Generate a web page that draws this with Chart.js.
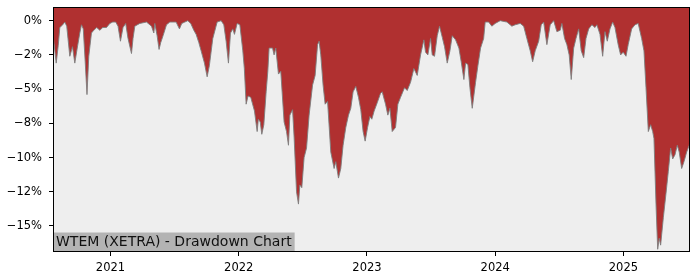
<!DOCTYPE html>
<html>
<head>
<meta charset="utf-8">
<script src="https://cdn.jsdelivr.net/npm/chart.js@4/dist/chart.umd.min.js"></script>
<style>
  body { margin: 0; background: #fff; }
  #wrap { width: 700px; height: 280px; }
</style>
</head>
<body>
<div id="wrap"><canvas id="dd" width="700" height="280"></canvas></div>
<script>
// dates as decimal years, drawdown in percent
const dates = [
  2020.552, 2020.577, 2020.593, 2020.605, 2020.628, 2020.644, 2020.659, 2020.683, 2020.704, 2020.722,
  2020.741, 2020.761, 2020.774, 2020.788, 2020.803, 2020.817, 2020.831, 2020.852, 2020.870, 2020.893,
  2020.917, 2020.940, 2020.969, 2020.995, 2021.018, 2021.041, 2021.059, 2021.078, 2021.098, 2021.119,
  2021.137, 2021.164, 2021.176, 2021.190, 2021.229, 2021.281, 2021.320, 2021.338, 2021.346, 2021.364,
  2021.379, 2021.392, 2021.410, 2021.437, 2021.463, 2021.488, 2021.512, 2021.538, 2021.556, 2021.580,
  2021.603, 2021.626, 2021.650, 2021.668, 2021.689, 2021.707, 2021.733, 2021.754, 2021.771, 2021.798,
  2021.832, 2021.863, 2021.884, 2021.902, 2021.920, 2021.936, 2021.954, 2021.967, 2021.988, 2022.009,
  2022.032, 2022.044, 2022.058, 2022.073, 2022.094, 2022.123, 2022.144, 2022.153, 2022.168, 2022.180,
  2022.196, 2022.214, 2022.227, 2022.237, 2022.264, 2022.276, 2022.289, 2022.310, 2022.328, 2022.354,
  2022.373, 2022.388, 2022.399, 2022.420, 2022.432, 2022.451, 2022.466, 2022.477, 2022.492, 2022.510,
  2022.529, 2022.549, 2022.576, 2022.596, 2022.615, 2022.627, 2022.640, 2022.658, 2022.674, 2022.693,
  2022.718, 2022.744, 2022.757, 2022.778, 2022.796, 2022.814, 2022.835, 2022.856, 2022.874, 2022.892,
  2022.913, 2022.934, 2022.952, 2022.970, 2022.986, 2023.005, 2023.023, 2023.038, 2023.056, 2023.080,
  2023.106, 2023.119, 2023.145, 2023.163, 2023.179, 2023.197, 2023.223, 2023.241, 2023.262, 2023.293,
  2023.314, 2023.340, 2023.366, 2023.392, 2023.418, 2023.444, 2023.457, 2023.475, 2023.496, 2023.509,
  2023.527, 2023.548, 2023.566, 2023.587, 2023.605, 2023.626, 2023.647, 2023.665, 2023.691, 2023.717,
  2023.735, 2023.756, 2023.769, 2023.787, 2023.803, 2023.821, 2023.847, 2023.865, 2023.886, 2023.910,
  2023.922, 2023.949, 2023.974, 2024.000, 2024.039, 2024.091, 2024.130, 2024.156, 2024.195, 2024.222,
  2024.247, 2024.273, 2024.292, 2024.312, 2024.339, 2024.359, 2024.378, 2024.403, 2024.429, 2024.456,
  2024.481, 2024.507, 2024.520, 2024.541, 2024.559, 2024.577, 2024.593, 2024.612, 2024.630, 2024.651,
  2024.671, 2024.690, 2024.708, 2024.729, 2024.754, 2024.778, 2024.793, 2024.817, 2024.838, 2024.856,
  2024.874, 2024.895, 2024.916, 2024.934, 2024.959, 2024.978, 2024.998, 2025.020, 2025.037, 2025.064,
  2025.090, 2025.115, 2025.142, 2025.160, 2025.176, 2025.194, 2025.212, 2025.228, 2025.238, 2025.254,
  2025.267, 2025.279, 2025.290, 2025.311, 2025.332, 2025.350, 2025.368, 2025.384, 2025.402, 2025.420,
  2025.435, 2025.454, 2025.472, 2025.493, 2025.513, 2025.519
];

const drawdown = [
  -1.0, -3.1, -1.8, -0.5, -0.3, -0.1, -0.4, -2.6, -1.9, -3.1,
  -2.0, -0.9, -0.3, -0.6, -3.0, -5.4, -2.6, -0.9, -0.7, -0.5,
  -0.7, -0.5, -0.5, -0.2, -0.1, -0.1, -0.4, -1.5, -0.5, -0.2,
  -1.3, -2.4, -1.3, -0.4, -0.2, -0.1, -0.4, -0.9, -0.2, -1.1,
  -2.1, -1.6, -1.1, -0.3, -0.1, -0.1, -0.1, -0.6, -0.2, -0.1,
  0.0, -0.2, -0.7, -1.0, -1.6, -2.2, -3.1, -4.1, -3.3, -1.3,
  -0.1, 0.0, -0.3, -1.5, -3.1, -0.9, -0.6, -1.0, -0.2, -0.3,
  -2.2, -3.5, -6.1, -5.5, -5.6, -6.6, -8.1, -7.2, -7.4, -8.3,
  -7.6, -5.2, -3.7, -2.0, -2.0, -2.5, -2.0, -3.9, -3.7, -7.4,
  -8.1, -9.1, -6.9, -6.5, -8.5, -12.5, -13.4, -12.0, -12.2, -10.0,
  -9.3, -6.9, -4.7, -4.0, -1.75, -1.5, -2.5, -4.7, -6.1, -5.9,
  -9.6, -10.8, -10.3, -11.5, -10.8, -9.1, -7.8, -6.9, -6.4, -5.2,
  -4.8, -5.6, -6.5, -8.1, -8.8, -7.8, -7.0, -7.2, -6.6, -6.0,
  -5.3, -5.2, -6.1, -6.9, -6.4, -8.1, -7.8, -6.1, -5.6, -4.9,
  -5.1, -4.5, -3.5, -4.0, -2.5, -1.4, -2.3, -2.5, -1.3, -2.5,
  -2.6, -1.1, -0.4, -1.2, -1.9, -3.1, -2.2, -1.1, -1.4, -2.0,
  -3.0, -4.3, -3.1, -3.2, -4.9, -6.4, -4.5, -3.3, -2.0, -1.3,
  -0.1, -0.1, -0.4, -0.2, 0.0, -0.1, -0.4, -0.3, -0.2, -0.4,
  -1.3, -2.2, -3.0, -2.2, -1.5, -0.3, -0.1, -1.75, -0.3, 0.0,
  -0.8, -0.7, -0.2, -1.3, -1.75, -2.5, -4.3, -2.0, -1.3, -0.6,
  -2.2, -2.7, -1.3, -0.6, -0.3, -0.5, -0.3, -1.0, -2.6, -0.8,
  -1.5, -0.6, -0.1, -0.5, -1.75, -2.5, -2.3, -2.6, -1.75, -0.6,
  -0.3, -0.2, -1.3, -2.2, -4.9, -8.1, -7.6, -8.1, -8.6, -13.4,
  -16.7, -15.9, -16.4, -14.4, -12.6, -11.0, -9.3, -10.1, -9.8, -9.1,
  -9.6, -10.8, -10.3, -9.6, -9.1, -8.8
];

const yTicks = [0, -2.5, -5, -7.5, -10, -12.5, -15];
const yTickLabels = ['0%', '\u22122%', '\u22125%', '\u22128%', '\u221210%', '\u221212%', '\u221215%'];
const xTicks = [2021, 2022, 2023, 2024, 2025];
const xTickLabels = ['2021', '2022', '2023', '2024', '2025'];
const title = 'WTEM (XETRA) - Drawdown Chart';

const points = dates.map((d, i) => ({ x: d, y: drawdown[i] }));

const tickFont = { family: 'DejaVu Sans', size: 11.5 };

const plotBg = {
  id: 'plotBg',
  beforeDraw(chart) {
    const a = chart.chartArea, ctx = chart.ctx;
    ctx.save();
    ctx.fillStyle = '#eeeeee';
    ctx.fillRect(a.left, a.top, a.right - a.left, a.bottom - a.top);
    ctx.restore();
  },
  afterDraw(chart) {
    const a = chart.chartArea, ctx = chart.ctx;
    ctx.save();
    // title box, bottom left inside the plot
    ctx.font = '14px "DejaVu Sans"';
    const w = ctx.measureText(title).width;
    ctx.fillStyle = '#b3b3b3';
    ctx.fillRect(a.left, a.bottom - 19.5, w + 6, 19.5);
    ctx.fillStyle = '#111';
    ctx.textBaseline = 'middle';
    ctx.fillText(title, a.left + 3, a.bottom - 9.5);
    // frame
    ctx.strokeStyle = '#000';
    ctx.lineWidth = 1;
    ctx.strokeRect(a.left + 0.5, a.top + 0.5, a.right - a.left - 1, a.bottom - a.top - 1);
    ctx.restore();
  }
};

new Chart(document.getElementById('dd'), {
  type: 'line',
  data: {
    datasets: [{
      data: points,
      fill: 'end',
      backgroundColor: '#b03030',
      borderColor: 'rgba(125,125,125,0.9)',
      borderWidth: 1,
      pointRadius: 0,
      tension: 0
    }]
  },
  options: {
    responsive: false,
    animation: false,
    devicePixelRatio: 1,
    layout: { padding: { top: 7, right: 10, left: 0, bottom: 0 } },
    plugins: { legend: { display: false }, tooltip: { enabled: false } },
    scales: {
      x: {
        type: 'linear',
        min: dates[0],
        max: dates[dates.length - 1],
        afterBuildTicks: (s) => { s.ticks = xTicks.map(v => ({ value: v })); },
        afterFit: (s) => { s.height = 28; s.paddingLeft = 0; s.paddingRight = 0; },
        border: { display: false },
        grid: { drawOnChartArea: false, tickLength: 4, tickColor: '#000' },
        ticks: {
          autoSkip: false, maxRotation: 0, padding: 5,
          color: '#000', font: tickFont,
          callback: (v) => xTickLabels[xTicks.indexOf(v)]
        }
      },
      y: {
        min: -16.9,
        max: 1.0,
        afterBuildTicks: (s) => { s.ticks = yTicks.map(v => ({ value: v })); },
        afterFit: (s) => { s.width = 53; s.paddingTop = 0; s.paddingBottom = 0; },
        border: { display: false },
        grid: { drawOnChartArea: false, tickLength: 4, tickColor: '#000' },
        ticks: {
          autoSkip: false, padding: 7,
          color: '#000', font: tickFont,
          callback: (v) => yTickLabels[yTicks.indexOf(v)]
        }
      }
    }
  },
  plugins: [plotBg]
});
</script>
</body>
</html>
